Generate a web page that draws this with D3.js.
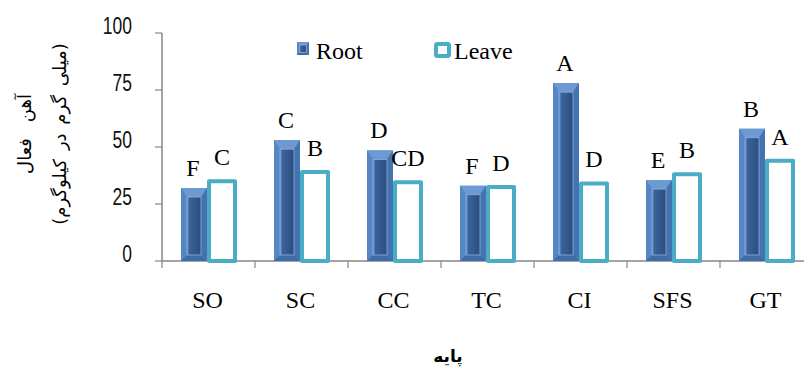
<!DOCTYPE html>
<html>
<head>
<meta charset="utf-8">
<script src="https://cdn.jsdelivr.net/npm/d3@7/dist/d3.min.js"></script>
<style>
  html, body { margin: 0; padding: 0; background: #fff; }
  svg { display: block; }
</style>
</head>
<body>
<svg id="chart" width="804" height="368"></svg>
<script>
// Rootstock categories and active iron content (mg/kg) in root and leaf tissue
const categories = ["SO", "SC", "CC", "TC", "CI", "SFS", "GT"];
const rootValues = [32, 53, 48.5, 33, 78, 35.5, 58];
const leaveValues = [35, 39, 34.5, 32.5, 34, 38, 44];
const rootLetters = ["F", "C", "D", "F", "A", "E", "B"];
const leaveLetters = ["C", "B", "CD", "D", "D", "B", "A"];
const yTicks = [0, 25, 50, 75, 100];
const seriesNames = ["Root", "Leave"];

const svg = d3.select("#chart");
const serif = "'Times New Roman', 'Liberation Serif', serif";
const sans = "'Liberation Sans', Arial, sans-serif";
const arabic = "'DejaVu Sans', sans-serif";
const axisGray = "#868686";
const leaveColor = "#4BACC6";

const x = d3.scaleBand().domain(categories).range([162, 813]).padding(0);
const y = d3.scaleLinear().domain([0, 100]).range([261, 33]);
const barW = 26;

const defs = svg.append("defs");
const inner = defs.append("linearGradient").attr("id", "innerGrad")
  .attr("x1", 0).attr("x2", 1).attr("y1", 0).attr("y2", 0);
inner.append("stop").attr("offset", "0%").attr("stop-color", "#6F9AD0");
inner.append("stop").attr("offset", "18%").attr("stop-color", "#3A6299");
inner.append("stop").attr("offset", "100%").attr("stop-color", "#2C4E7F");

// Bevelled bar: outer face plus four sloped facets around a sunken centre
function bevelBar(g, x0, y0, w, h, bs, bt) {
  const x1 = x0 + w, y1 = y0 + h;
  const top = Math.min(bt, h / 2), side = Math.min(bs, w / 2);
  g.append("rect").attr("x", x0).attr("y", y0).attr("width", w).attr("height", h)
    .attr("fill", "#4F80BF");
  const facet = (pts, fill) => g.append("polygon")
    .attr("points", pts.map(p => p.join(",")).join(" ")).attr("fill", fill);
  facet([[x0, y0], [x1, y0], [x1 - side, y0 + top], [x0 + side, y0 + top]], "#6E9AD3");
  facet([[x0, y0], [x0 + side, y0 + top], [x0 + side, y1 - side], [x0, y1]], "#5587C6");
  facet([[x1, y0], [x1, y1], [x1 - side, y1 - side], [x1 - side, y0 + top]], "#4373B0");
  facet([[x0, y1], [x0 + side, y1 - side], [x1 - side, y1 - side], [x1, y1]], "#3E6CA8");
  if (h > top + side) {
    g.append("rect").attr("x", x0 + side).attr("y", y0 + top)
      .attr("width", w - 2 * side).attr("height", h - top - side)
      .attr("fill", "url(#innerGrad)").attr("stroke", "#8FB0DA").attr("stroke-width", 0.8);
  }
}

// Axes
svg.append("line").attr("x1", 162).attr("x2", 162).attr("y1", y(100)).attr("y2", y(0))
  .attr("stroke", axisGray).attr("stroke-width", 1.5);
svg.append("line").attr("x1", 162).attr("x2", 813).attr("y1", y(0)).attr("y2", y(0))
  .attr("stroke", axisGray).attr("stroke-width", 1.5);

svg.selectAll(".ytick").data(yTicks).enter().append("line")
  .attr("x1", 155).attr("x2", 162).attr("y1", d => y(d)).attr("y2", d => y(d))
  .attr("stroke", axisGray).attr("stroke-width", 1.2);
// narrow tick numerals: a regular sans face compressed horizontally
svg.selectAll(".ylab").data(yTicks).enter().append("text")
  .attr("transform", d => `translate(132,${y(d) + 1}) scale(0.76,1)`)
  .attr("text-anchor", "end").attr("font-family", sans).attr("font-size", 23)
  .attr("fill", "#111").text(d => d);

const bounds = categories.map(c => x(c)).concat([x.range()[1]]);
svg.selectAll(".xtick").data(bounds).enter().append("line")
  .attr("x1", d => d).attr("x2", d => d).attr("y1", y(0)).attr("y2", y(0) + 7)
  .attr("stroke", axisGray).attr("stroke-width", 1.2);

svg.selectAll(".xlab").data(categories).enter().append("text")
  .attr("x", d => x(d) + x.bandwidth() / 2 - 1).attr("y", 308)
  .attr("text-anchor", "middle").attr("font-family", serif).attr("font-size", 24)
  .attr("fill", "#000").text(d => d);

// Bars
const groups = svg.selectAll(".cat").data(categories).enter().append("g");
groups.each(function (c, i) {
  const g = d3.select(this);
  const cx = x(c) + x.bandwidth() / 2;
  const rx = cx - 27.5;
  bevelBar(g, rx, y(rootValues[i]), barW, y(0) - y(rootValues[i]), 6, 9);
  const lx = cx + 0.5;
  g.append("rect").attr("x", lx).attr("y", y(leaveValues[i]))
    .attr("width", barW).attr("height", y(0) - y(leaveValues[i]))
    .attr("fill", "#fff").attr("stroke", leaveColor).attr("stroke-width", 4)
    .attr("stroke-linejoin", "round");
  g.append("text").attr("x", rx + barW / 2 - 1).attr("y", y(rootValues[i]) - 12)
    .attr("text-anchor", "middle").attr("font-family", serif).attr("font-size", 24)
    .text(rootLetters[i]);
  g.append("text").attr("x", lx + barW / 2).attr("y", y(leaveValues[i]) - 16)
    .attr("text-anchor", "middle").attr("font-family", serif).attr("font-size", 24)
    .text(leaveLetters[i]);
});

// Legend
const leg = svg.append("g");
bevelBar(leg, 297, 42, 12, 13, 2.5, 3);
leg.append("text").attr("x", 316).attr("y", 59).attr("font-family", serif)
  .attr("font-size", 24).text(seriesNames[0]);
leg.append("rect").attr("x", 436).attr("y", 44).attr("width", 13).attr("height", 12)
  .attr("fill", "#fff").attr("stroke", leaveColor).attr("stroke-width", 4).attr("rx", 1.5);
leg.append("text").attr("x", 454).attr("y", 59).attr("font-family", serif)
  .attr("font-size", 24).text(seriesNames[1]);

// Axis titles
const yTitle = svg.append("g").attr("transform", "translate(0,134) rotate(-90)");
yTitle.append("text").attr("x", 0).attr("y", 31).attr("text-anchor", "middle")
  .attr("font-family", arabic).attr("font-size", 18).attr("word-spacing", 10)
  .attr("direction", "rtl").text("آهن فعال");
yTitle.append("text").attr("x", 0).attr("y", 66).attr("text-anchor", "middle")
  .attr("font-family", arabic).attr("font-size", 18).attr("word-spacing", 3)
  .attr("direction", "rtl").text("(میلی گرم در کیلوگرم)");

svg.append("text").attr("x", 448).attr("y", 362).attr("text-anchor", "middle")
  .attr("font-family", arabic).attr("font-size", 17).attr("font-weight", "bold")
  .attr("direction", "rtl").text("پایه");
</script>
</body>
</html>
